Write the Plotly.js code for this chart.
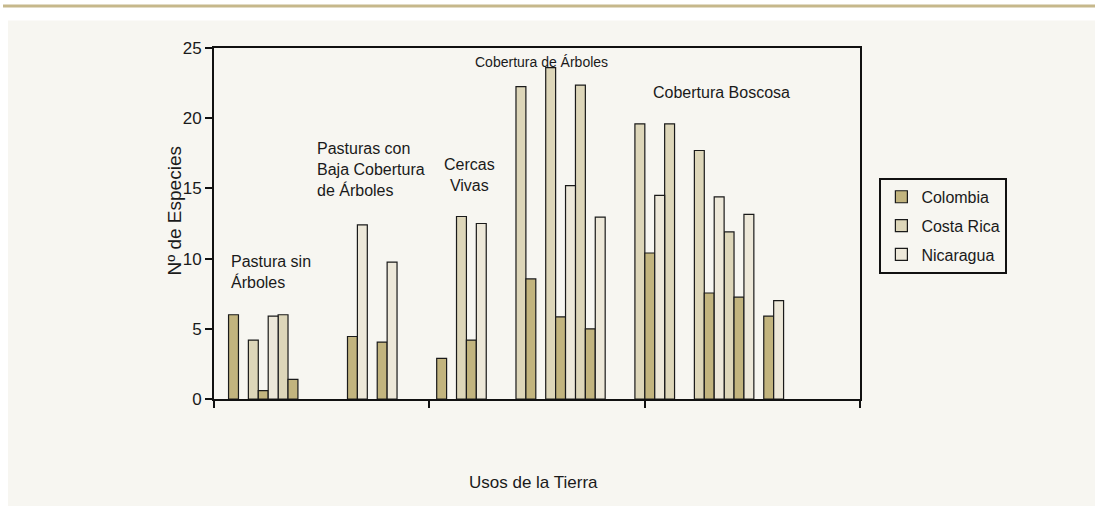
<!DOCTYPE html>
<html>
<head>
<meta charset="utf-8">
<script src="https://cdn.plot.ly/plotly-3.0.1.min.js"></script>
<style>
  html, body { margin: 0; padding: 0; background: #ffffff; }
  #chart { width: 1095px; height: 513px; }
</style>
</head>
<body>
<div id="chart"></div>
<script>
// ---- Data ----
// Each category is one sampled site within a land use; "gap" categories separate the land uses.
const categories = [
  "Pastura sin Árboles 1", "Pastura sin Árboles 2", "Pastura sin Árboles 3",
  "gap 1",
  "Pasturas con Baja Cobertura 1", "Pasturas con Baja Cobertura 2",
  "gap 2",
  "Cercas Vivas 1", "Cercas Vivas 2",
  "gap 3",
  "Cobertura de Árboles 1", "Cobertura de Árboles 2", "Cobertura de Árboles 3",
  "gap 4",
  "Cobertura Boscosa 1", "Cobertura Boscosa 2", "Cobertura Boscosa 3", "Cobertura Boscosa 4", "Cobertura Boscosa 5"
];

const costaRica = [null, 4.2, 6.0, null, null, null, null, null, 13.0, null, 22.25, 23.6, 22.35, null, 19.6, 19.6, 17.7, 11.9, null];
const colombia  = [6.0, 0.6, 1.4, null, 4.45, 4.05, null, 2.9, 4.2, null, 8.55, 5.85, 5.0, null, 10.4, null, 7.55, 7.25, 5.9];
const nicaragua = [null, 5.9, null, null, 12.4, 9.75, null, null, 12.5, null, null, 15.2, 12.95, null, 14.5, null, 14.4, 13.15, 7.0];

const seriesNames = ["Colombia", "Costa Rica", "Nicaragua"];
const landUseLabels = ["Pastura sin<br>Árboles", "Pasturas con<br>Baja Cobertura<br>de Árboles", "Cercas<br>Vivas", "Cobertura de Árboles", "Cobertura Boscosa"];
const landUseTicks = [0, 1, 2, 3];
const yTicks = [0, 5, 10, 15, 20, 25];
const xTitle = "Usos de la Tierra";
const yTitle = "Nº de Especies";

// ---- Styles ----
const FONT = "Liberation Sans, Arial, Helvetica, sans-serif";
const TXT = "#1a1a1a";
const PANEL = "#f7f6f1";
const colColombia = "#c2b47e";
const colCostaRica = "#ddd6b9";
const colNicaragua = "#ede8d9";
const outline = { color: "#1a1a1a", width: 1.2 };

function barTrace(name, values, color, rank) {
  return {
    type: "bar",
    name: name,
    x: categories,
    y: values,
    marker: { color: color, line: outline },
    legendrank: rank,
    legendgroup: name,
    hoverinfo: "x+y+name"
  };
}

// Left-to-right order inside each site: Costa Rica, Colombia, Nicaragua
const data = [
  barTrace(seriesNames[1], costaRica, colCostaRica, 2),
  barTrace(seriesNames[0], colombia, colColombia, 1),
  barTrace(seriesNames[2], nicaragua, colNicaragua, 3),
  // carrier for the land-use tick marks on the overlaid axis (draws nothing)
  { type: "scatter", mode: "markers", x: landUseTicks, y: landUseTicks.map(() => null),
    xaxis: "x2", yaxis: "y", showlegend: false, hoverinfo: "skip" }
];

const layout = {
  width: 1095,
  height: 513,
  margin: { l: 214, r: 235, t: 48, b: 114, pad: 0 },
  paper_bgcolor: "#ffffff",
  plot_bgcolor: PANEL,
  font: { family: FONT, color: TXT, size: 16 },
  barmode: "group",
  bargap: 0,
  bargroupgap: 0,
  showlegend: true,
  legend: {
    x: 1.030, xanchor: "left",
    y: 0.630, yanchor: "top",
    bgcolor: PANEL,
    bordercolor: "#111111",
    borderwidth: 2,
    font: { family: FONT, size: 16, color: TXT },
    traceorder: "grouped",
    tracegroupgap: 5
  },
  xaxis: {
    type: "category",
    range: [-0.656, 21.07],
    showticklabels: false,
    ticks: "",
    showgrid: false,
    zeroline: false,
    showline: true,
    linecolor: "#111111",
    linewidth: 2,
    mirror: true,
    fixedrange: true
  },
  xaxis2: {
    overlaying: "x",
    anchor: "y",
    side: "bottom",
    range: [0, 3],
    tickmode: "array",
    tickvals: landUseTicks,
    ticks: "outside",
    ticklen: 8,
    tickwidth: 2,
    tickcolor: "#111111",
    showticklabels: false,
    showgrid: false,
    zeroline: false,
    showline: false,
    fixedrange: true
  },
  yaxis: {
    range: [0, 25],
    tickmode: "array",
    tickvals: yTicks,
    ticks: "outside",
    ticklen: 7,
    tickwidth: 2,
    tickcolor: "#111111",
    tickfont: { family: FONT, size: 17, color: TXT },
    showgrid: false,
    zeroline: false,
    showline: true,
    linecolor: "#111111",
    linewidth: 2,
    mirror: true,
    fixedrange: true
  },
  shapes: [
    { type: "rect", xref: "paper", yref: "paper", layer: "below",
      x0: -0.3189, x1: 1.3638, y0: -0.3048, y1: 1.0783,
      fillcolor: PANEL, line: { width: 0 } },
    { type: "rect", xref: "paper", yref: "paper", layer: "below",
      x0: -0.3266, x1: 1.3638, y0: 1.1154, y1: 1.1240,
      fillcolor: "#c6b88b", line: { width: 0 } }
  ],
  annotations: [
    { text: landUseLabels[0], xref: "paper", yref: "paper", x: 0.0225, y: 0.362,
      xanchor: "left", yanchor: "middle", align: "left", showarrow: false,
      font: { family: FONT, size: 16, color: TXT } },
    { text: landUseLabels[1], xref: "paper", yref: "paper", x: 0.156, y: 0.654,
      xanchor: "left", yanchor: "middle", align: "left", showarrow: false,
      font: { family: FONT, size: 16, color: TXT } },
    { text: landUseLabels[2], xref: "paper", yref: "paper", x: 0.396, y: 0.6396,
      xanchor: "center", yanchor: "middle", align: "center", showarrow: false,
      font: { family: FONT, size: 16, color: TXT } },
    { text: landUseLabels[3], xref: "paper", yref: "paper", x: 0.507, y: 0.9587,
      xanchor: "center", yanchor: "middle", align: "center", showarrow: false,
      font: { family: FONT, size: 14, color: TXT } },
    { text: landUseLabels[4], xref: "paper", yref: "paper", x: 0.7853, y: 0.873,
      xanchor: "center", yanchor: "middle", align: "center", showarrow: false,
      font: { family: FONT, size: 16, color: TXT } },
    { text: yTitle, xref: "paper", yref: "paper", x: -0.0604, y: 0.537,
      xanchor: "center", yanchor: "middle", textangle: -90, showarrow: false,
      font: { family: FONT, size: 19, color: TXT } },
    { text: xTitle, xref: "paper", yref: "paper", x: 0.4946, y: -0.238,
      xanchor: "center", yanchor: "middle", showarrow: false,
      font: { family: FONT, size: 17, color: TXT } }
  ]
};

Plotly.newPlot("chart", data, layout, { displayModeBar: false, staticPlot: true });
</script>
</body>
</html>
